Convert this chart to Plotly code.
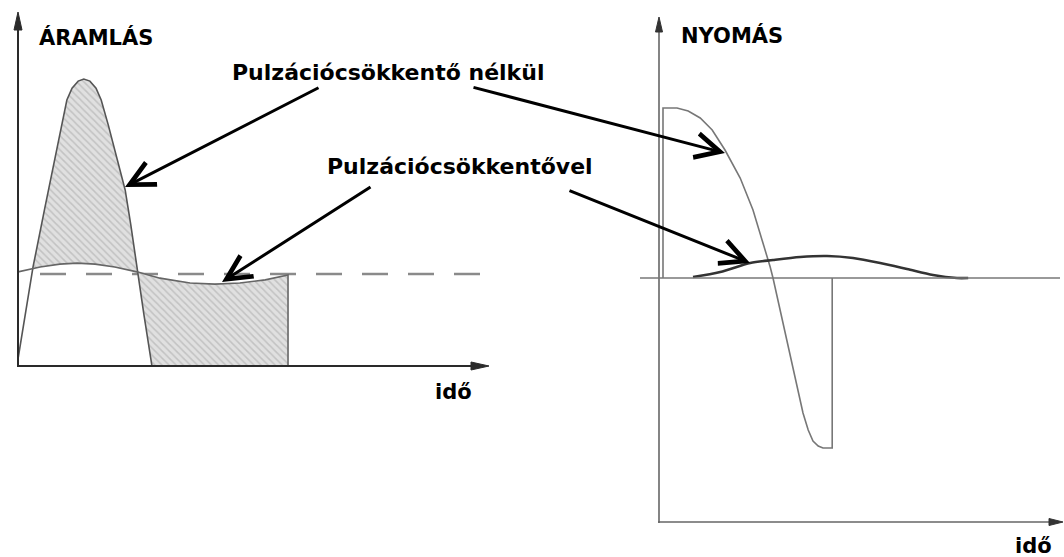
import numpy as np
import plotly.graph_objects as go

# ---------------- DATA ----------------
# Flow (ÁRAMLÁS) panel: time (arbitrary units), flow (arbitrary units)
flow_t_without = [0.0, 0.32, 0.57, 0.83, 1.04, 1.15, 1.28, 1.40, 1.53, 1.66, 1.77,
                  1.92, 2.09, 2.28, 2.40, 2.53, 2.68, 2.85, 5.745]
flow_v_without = [0.2, 2.83, 4.51, 6.17, 7.60, 7.94, 8.14, 8.20, 8.14, 7.94, 7.60,
                  6.89, 5.97, 5.03, 4.03, 2.80, 1.46, 0.0, 0.0]
flow_t_with = [0.0, 0.47, 0.89, 1.26, 1.64, 2.06, 2.53, 3.02, 3.66, 4.19, 4.72,
               5.26, 5.745, 5.745]
flow_v_with = [2.69, 2.83, 2.91, 2.94, 2.91, 2.83, 2.69, 2.51, 2.37, 2.34, 2.37,
               2.46, 2.60, 0.0]
mean_flow = 2.63

# Pressure (NYOMÁS) panel
press_t_without = [0.1, 0.1, 0.45, 0.73, 1.03, 1.33, 1.65, 2.03, 2.35, 2.60, 2.78,
                   2.85, 3.03, 3.23, 3.45, 3.60, 3.73, 3.85, 3.98, 4.10, 4.33, 4.33]
press_p_without = [0.0, 8.5, 8.5, 8.35, 8.0, 7.4, 6.4, 5.0, 3.4, 1.8, 0.55,
                   0.0, -1.6, -3.45, -5.45, -6.75, -7.6, -8.15, -8.4, -8.5, -8.5, 0.0]
press_t_with = [0.85, 1.53, 2.28, 2.85, 3.53, 4.20, 4.85, 5.53, 6.20, 6.85, 7.45, 7.73]
press_p_with = [0.05, 0.30, 0.75, 0.90, 1.05, 1.10, 1.00, 0.75, 0.45, 0.15, 0.0, 0.0]

# Labels
label_flow = "ÁRAMLÁS"
label_press = "NYOMÁS"
label_time = "idő"
label_without = "Pulzációcsökkentő nélkül"
label_with = "Pulzációcsökkentővel"

# ---------------- FIGURE ----------------
W, H = 1064, 557
FONT = "DejaVu Sans"

fig = go.Figure()

# hatched regions between the two flow curves
tg = np.linspace(0, 5.745, 600)
nd = np.interp(tg, flow_t_without, flow_v_without)
wd = np.interp(tg, flow_t_with[:-1], flow_v_with[:-1])
above = nd > wd
idx = np.where(above)[0]
i0, i1 = idx[0], idx[-1]
r1x = np.concatenate([tg[i0:i1 + 1], tg[i0:i1 + 1][::-1]])
r1y = np.concatenate([nd[i0:i1 + 1], wd[i0:i1 + 1][::-1]])
r2x = np.concatenate([tg[i1:], tg[i1:][::-1]])
r2y = np.concatenate([wd[i1:], nd[i1:][::-1]])
pattern = dict(shape="\\", bgcolor="#e0e0e0", fgcolor="#a4a4a4", size=5, solidity=0.3)
for rx, ry in [(r1x, r1y), (r2x, r2y)]:
    fig.add_trace(go.Scatter(x=rx, y=ry, mode="lines", fill="toself",
                             fillcolor="#e0e0e0", fillpattern=pattern,
                             line=dict(width=0), hoverinfo="skip",
                             xaxis="x", yaxis="y", showlegend=False))

fig.add_trace(go.Scatter(x=flow_t_without, y=flow_v_without, mode="lines",
                         line=dict(color="#555555", width=1.6),
                         xaxis="x", yaxis="y", showlegend=False))
fig.add_trace(go.Scatter(x=flow_t_with, y=flow_v_with, mode="lines",
                         line=dict(color="#666666", width=1.6),
                         xaxis="x", yaxis="y", showlegend=False))

fig.add_trace(go.Scatter(x=press_t_without, y=press_p_without, mode="lines",
                         line=dict(color="#777777", width=1.6),
                         xaxis="x2", yaxis="y2", showlegend=False))
fig.add_trace(go.Scatter(x=press_t_with, y=press_p_with, mode="lines",
                         line=dict(color="#333333", width=2.6, shape="spline", smoothing=0.8),
                         xaxis="x2", yaxis="y2", showlegend=False))
fig.add_trace(go.Scatter(x=[None], y=[None], xaxis="x3", yaxis="y3", showlegend=False))

shapes = []
shapes.append(dict(type="line", xref="x", yref="y", x0=(40 - 18) / 47, x1=(480 - 18) / 47,
                   y0=mean_flow, y1=mean_flow,
                   line=dict(color="#8a8a8a", width=2.5, dash="26px,20px"), layer="below"))

def axis_line(x0, y0, x1, y1, color, width):
    shapes.append(dict(type="line", xref="x3", yref="y3", x0=x0, y0=y0, x1=x1, y1=y1,
                       line=dict(color=color, width=width)))

def tri(tipx, tipy, direction, length, half, color):
    if direction == "up":
        p = f"M{tipx},{tipy} L{tipx-half},{tipy+length} L{tipx+half},{tipy+length} Z"
    else:
        p = f"M{tipx},{tipy} L{tipx-length},{tipy-half} L{tipx-length},{tipy+half} Z"
    shapes.append(dict(type="path", xref="x3", yref="y3", path=p,
                       fillcolor=color, line=dict(color=color, width=1)))

axis_line(18, 367, 18, 25, "#2a2a2a", 2)
tri(18, 12, "up", 18, 4, "#2a2a2a")
axis_line(17, 366, 478, 366, "#2a2a2a", 2)
tri(489, 366, "right", 18, 4, "#2a2a2a")
axis_line(659, 523, 659, 28, "#666666", 1.6)
tri(659, 17, "up", 15, 3.5, "#333333")
axis_line(658, 522, 1052, 522, "#666666", 1.6)
tri(1063, 522, "right", 14, 3.5, "#333333")
axis_line(640, 278, 1060, 278, "#777777", 1.6)

annotations = []
def text(x, y, s, size):
    annotations.append(dict(x=x, y=y, xref="x3", yref="y3", text=f"<b>{s}</b>",
                            showarrow=False, xanchor="center", yanchor="middle",
                            font=dict(family=FONT, size=size, color="#000000")))

text(95.5, 37.5, label_flow, 21)
text(731.5, 35, label_press, 21)
text(387.5, 72.5, label_without, 22)
text(460, 166.5, label_with, 22)
text(453.5, 392, label_time, 21)
text(1033.5, 546, label_time, 21)

def callout(tail, head):
    annotations.append(dict(x=head[0], y=head[1], ax=tail[0], ay=tail[1],
                            xref="x3", yref="y3", axref="x3", ayref="y3",
                            showarrow=True, arrowhead=5, arrowsize=1.6, arrowwidth=3,
                            arrowcolor="#000000", standoff=0, text=""))

callout((320, 87), (125, 187))
callout((472, 87), (725, 153))
callout((372, 186), (222, 282))
callout((568, 190), (750, 263))

hidden = dict(visible=False, showgrid=False, zeroline=False, fixedrange=True)
fig.update_layout(
    width=W, height=H, margin=dict(l=0, r=0, t=0, b=0, pad=0),
    paper_bgcolor="white", plot_bgcolor="rgba(0,0,0,0)",
    xaxis=dict(domain=[18 / W, 488 / W], range=[0, 10], anchor="y", **hidden),
    yaxis=dict(domain=[(H - 366) / H, (H - 16) / H], range=[0, 10], anchor="x", **hidden),
    xaxis2=dict(domain=[659 / W, 1059 / W], range=[0, 10], anchor="y2", **hidden),
    yaxis2=dict(domain=[(H - 522) / H, (H - 18) / H], range=[-12.2, 13], anchor="x2", **hidden),
    xaxis3=dict(domain=[0, 1], range=[0, W], anchor="y3", **hidden),
    yaxis3=dict(domain=[0, 1], range=[H, 0], anchor="x3", **hidden),
    shapes=shapes, annotations=annotations, showlegend=False,
)

fig.write_html("out.html", config={"displayModeBar": False},
               post_script="document.body.style.margin='0';document.body.style.overflow='hidden';")
